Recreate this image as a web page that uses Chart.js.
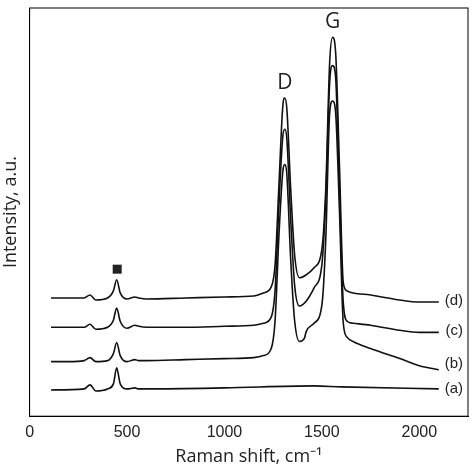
<!DOCTYPE html><html><head><script src="https://cdn.jsdelivr.net/npm/chart.js@4"></script>
<style>body{margin:0;background:#fff}#w{width:474px;height:474px}</style></head><body><div id="w"><canvas id="c"></canvas></div>
<script>
const xs=[110,200,280,310,340,400,430,447,465,500,540,560,600,800,1000,1150,1200,1240,1260,1280,1300,1310,1320,1340,1360,1385,1420,1460,1500,1520,1540,1555,1570,1590,1610,1630,1660,1750,1900,2000,2100];
const yD=[117,117,117,120,115,117,124,135,122,116,118,117,116,117,118,119,122,128,150,230,308,315,305,225,160,137,140,147,165,225,350,375,362,250,132,124,122,120,115,113,113];
const yC=[88,88,88,91,86,88,95,107,94,87,90,89,88,88,89,90,92,98,125,210,278,284,275,195,130,109,114,127,150,215,330,347,337,225,112,94,92,90,85,83,83];
const xsB=[110,200,280,310,340,400,430,447,465,500,540,560,600,800,1000,1150,1200,1240,1260,1280,1300,1310,1320,1340,1360,1385,1410,1420,1460,1500,1520,1540,1555,1570,1590,1610,1630,1660,1750,1900,2000,2100];
const yB=[54,54,55,58,54,55,62,73,60,54,56,55,55,56,57,58,60,67,95,180,243,249,240,155,95,74,77,84,92,110,175,300,312,302,205,92,78,74,67,57,50,46];
const xsA=[110,280,310,340,400,430,447,465,500,540,560,600,1000,1460,1600,2100];
const yA=[26,27,31,25,27,32,48,32,27,28,27,27,28,30,29,27];
const seriesLabels=['(a)','(b)','(c)','(d)'];
const labelY=[27,52,84,114];
const peakLabels=[{t:'D',x:1310,y:330},{t:'G',x:1555,y:390}];
const markX=447, markY=146;
const mk=(x,y)=>x.map((v,i)=>({x:v,y:y[i]}));
const ds=[[xsA,yA],[xsB,yB],[xs,yC],[xs,yD]].map(([x,y])=>({data:mk(x,y),borderColor:'#111',borderWidth:1.6,pointRadius:0,cubicInterpolationMode:'monotone',fill:false}));
const deco={id:'deco',afterDraw(c){const g=c.ctx,a=c.chartArea,sx=c.scales.x,sy=c.scales.y;g.save();
g.strokeStyle='#000';g.lineWidth=1;g.strokeRect(a.left,a.top,a.right-a.left,a.bottom-a.top);
g.fillStyle='#222';g.textBaseline='middle';g.font='15px Arial, Liberation Sans';g.textAlign='right';
seriesLabels.forEach((t,i)=>g.fillText(t,a.right-5,sy.getPixelForValue(labelY[i])));
g.textAlign='center';g.font='21px "Open Sans"';
peakLabels.forEach(p=>g.fillText(p.t,sx.getPixelForValue(p.x),sy.getPixelForValue(p.y)));
g.fillRect(sx.getPixelForValue(markX)-4,sy.getPixelForValue(markY)-4,9,9);
g.restore();}};
new Chart(document.getElementById('c'),{type:'line',data:{datasets:ds},plugins:[deco],
options:{responsive:true,maintainAspectRatio:false,animation:false,layout:{padding:{top:8,right:6,left:0,bottom:6}},
plugins:{legend:{display:false},tooltip:{enabled:false}},
scales:{x:{type:'linear',min:0,max:2250,grid:{display:false,drawTicks:true,tickLength:5},border:{color:'#000'},
ticks:{stepSize:250,color:'#222',padding:2,font:{size:16,family:'Arial'},callback:v=>v%500===0?v:''},
title:{display:true,text:'Raman shift, cm\u207B\u00B9',color:'#222',padding:{top:2,bottom:0},font:{size:18,family:'"Open Sans"'}}},
y:{min:0,max:404,grid:{display:false},ticks:{display:false},border:{color:'#000'},
title:{display:true,text:'Intensity, a.u.',color:'#222',padding:{top:0,bottom:0},font:{size:18,family:'"Open Sans"'}}}}}});
</script></body></html>
